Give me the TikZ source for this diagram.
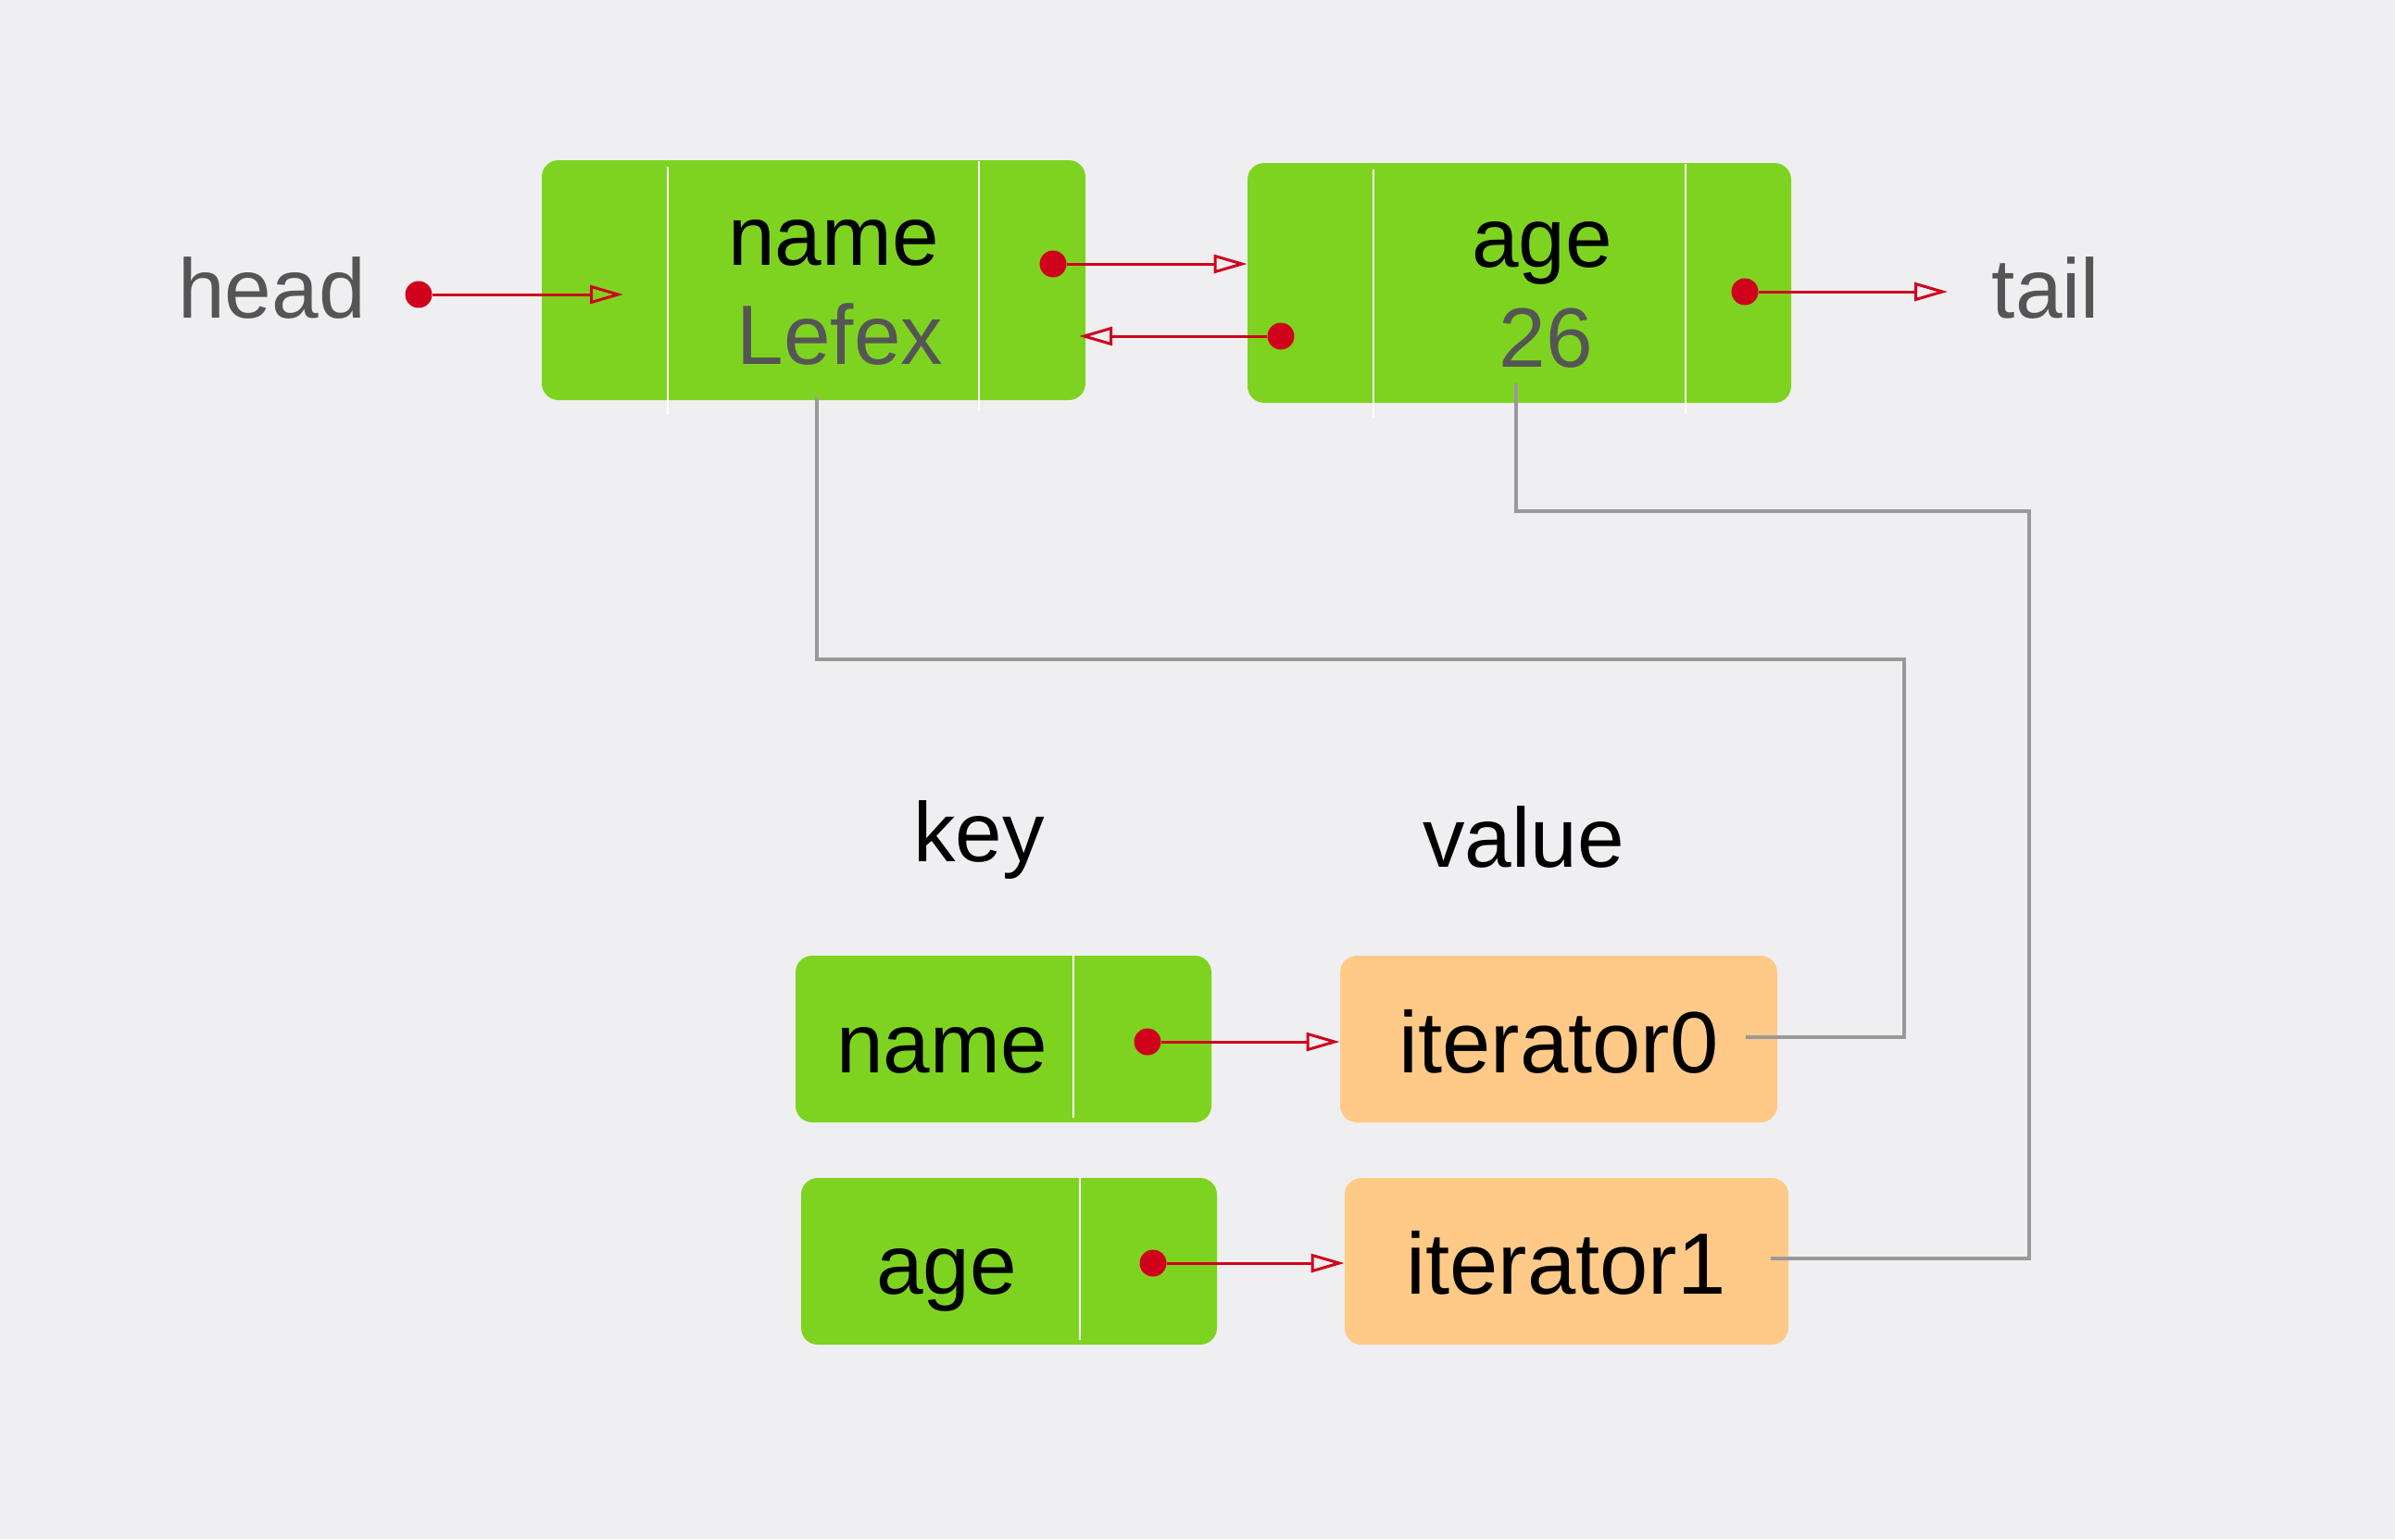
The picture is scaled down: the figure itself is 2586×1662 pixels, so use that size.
\documentclass[tikz,border=0pt]{standalone}
\usepackage{fontspec}
\setmainfont{Liberation Sans}
\usetikzlibrary{arrows.meta}
\definecolor{bgc}{RGB}{239,239,241}
\definecolor{grn}{RGB}{126,211,33}
\definecolor{org}{RGB}{255,201,135}
\definecolor{rd}{RGB}{208,2,27}
\definecolor{txtgray}{RGB}{85,85,85}
\definecolor{lngray}{RGB}{153,153,153}
\tikzset{
  gbox/.style={draw=none, fill=grn, rounded corners=9pt, inner sep=0pt},
  obox/.style={draw=none, fill=org, rounded corners=9pt, inner sep=0pt},
  lbl/.style={anchor=base, inner sep=0pt, font=\fontsize{45.5pt}{50pt}\selectfont},
  dot/.style={circle, fill=rd, inner sep=0pt, minimum size=14.5pt},
  ptr/.style={draw=rd, line width=1.5pt, -{Triangle[open, length=18pt, width=10pt, line width=1.5pt]}},
  divider/.style={draw=white, line width=0.8pt},
  link/.style={draw=lngray, line width=1.6pt}
}
\begin{document}
\begin{tikzpicture}[x=0.5pt, y=-0.5pt]
\fill[bgc] (0,0) rectangle (2586,1662);
\useasboundingbox (0,0) rectangle (2586,1662);

% top list nodes
\node[gbox, minimum width=293.5pt, minimum height=129.5pt] (n1) at (878.5,302.5) {};
\node[gbox, minimum width=293.5pt, minimum height=129.5pt] (n2) at (1640.5,305.5) {};
\draw[divider] (721,180) -- (721,448);
\draw[divider] (1057,174) -- (1057,444);
\draw[divider] (1483,183) -- (1483,451);
\draw[divider] (1820,177) -- (1820,447);

\node[lbl] (t1) at (900,286) {name};
\node[lbl, text=txtgray] (t2) at (907,393) {Lefex};
\node[lbl] (t3) at (1665,288) {age};
\node[lbl, text=txtgray] (t4) at (1669,396) {26};
\node[lbl, text=txtgray] (head) at (293.5,343) {head};
\node[lbl, text=txtgray] (tail) at (2209,343) {tail};

% bottom map nodes
\node[lbl] (key) at (1057,930) {key};
\node[lbl] (value) at (1645,936) {value};
\node[gbox, minimum width=224.5pt, minimum height=90pt] (k1) at (1083.5,1122) {};
\node[obox, minimum width=236pt, minimum height=90pt] (v1) at (1683,1122) {};
\node[gbox, minimum width=224.5pt, minimum height=90pt] (k2) at (1089.5,1362) {};
\node[obox, minimum width=239.5pt, minimum height=90pt] (v2) at (1691.5,1362) {};
\draw[divider] (1159,1032) -- (1159,1207);
\draw[divider] (1166,1272) -- (1166,1447);
\node[lbl] (k1t) at (1017,1158) {name};
\node[lbl, font=\fontsize{47pt}{52pt}\selectfont] (v1t) at (1683,1158) {iterator0};
\node[lbl] (k2t) at (1022,1397) {age};
\node[lbl, font=\fontsize{47pt}{52pt}\selectfont] (v2t) at (1691,1397) {iterator1};

% gray links
\coordinate (a1) at (882,429);
\coordinate (a2) at (1885,1120);
\coordinate (b1) at (1637,414);
\coordinate (b2) at (1912,1359);
\draw[link] (a1) -- (882,712) -- (2056,712) -- (2056,1120) -- (a2);
\draw[link] (b1) -- (1637,552) -- (2191,552) -- (2191,1359) -- (b2);

% red pointers
\node[dot] (dh) at (452,318) {};
\coordinate (eh) at (673,318);
\draw[ptr] (dh) -- (eh);
\node[dot] (d1) at (1137,285) {};
\draw[ptr] (d1) -- (n2.west |- d1);
\node[dot] (d2) at (1383,363) {};
\coordinate (e2) at (1165,363);
\draw[ptr] (d2) -- (e2);
\node[dot] (d3) at (1884,315) {};
\coordinate (e3) at (2103,315);
\draw[ptr] (d3) -- (e3);
\node[dot] (d4) at (1239,1125) {};
\draw[ptr] (d4) -- (v1.west |- d4);
\node[dot] (d5) at (1245,1364) {};
\draw[ptr] (d5) -- (v2.west |- d5);
\end{tikzpicture}
\end{document}
